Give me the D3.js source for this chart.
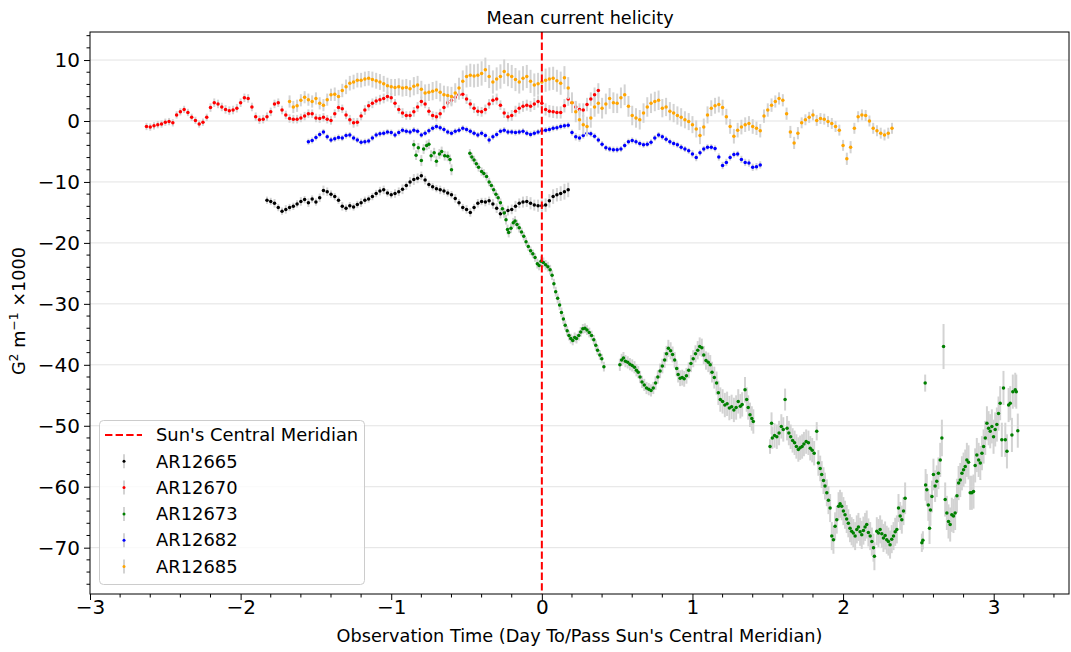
<!DOCTYPE html>
<html><head><meta charset="utf-8">
<script src="https://cdn.jsdelivr.net/npm/d3@7"></script>
<style>body{margin:0;background:#fff}svg{display:block}text{font-family:"DejaVu Sans",sans-serif}</style>
</head><body><svg id="chart" width="1071" height="652"></svg>
<script>
// ---------------- DATA ----------------
const cadence = 0.025; // days between samples of the regular series
const xTickValues = [-3, -2, -1, 0, 1, 2, 3];
const yTickValues = [10, 0, -10, -20, -30, -40, -50, -60, -70];
const seriesNames = ["AR12665", "AR12670", "AR12673", "AR12682", "AR12685"];
const seriesColors = ["#000000", "#ff0000", "#008000", "#0000ff", "#ffa500"];
const meridianLabel = "Sun's Central Meridian";

// AR12665 (black)
const blackStart = -1.825;
const blackValues = [
-13.0,-13.2,-13.5,-14.2,-14.8,-14.5,-14.2,-14.0,-13.6,-13.2,
-12.9,-13.4,-12.8,-13.3,-12.6,-11.4,-11.6,-12.0,-12.4,-13.0,
-14.0,-14.3,-13.9,-14.1,-13.7,-13.4,-13.0,-12.8,-12.4,-11.9,
-11.5,-11.3,-11.8,-12.1,-11.9,-11.6,-11.2,-10.6,-10.0,-9.6,
-9.4,-9.0,-9.7,-10.4,-10.8,-11.1,-11.3,-11.5,-11.8,-12.1,
-12.7,-13.4,-14.2,-14.5,-15.0,-14.2,-13.5,-13.2,-13.3,-13.1,
-13.6,-14.3,-15.2,-15.0,-14.7,-14.5,-14.0,-13.5,-13.3,-13.2,
-13.5,-13.8,-13.9,-13.9,-13.8,-13.1,-12.4,-12.1,-11.9,-11.6,
-11.3];
const blackErrors = [
0.6,0.6,0.7,0.6,0.6,0.7,0.6,0.6,0.6,0.7,
0.6,0.7,0.6,0.6,0.7,0.8,0.7,0.6,0.6,0.6,
0.7,0.6,0.6,0.6,0.6,0.7,0.6,0.6,0.6,0.6,
0.7,0.7,0.6,0.6,0.7,0.7,0.8,0.7,0.8,0.9,
0.8,0.7,0.7,0.6,0.6,0.6,0.7,0.6,0.6,0.6,
0.7,0.6,0.6,0.7,0.7,0.6,0.7,0.6,0.7,0.7,
0.8,0.8,0.8,0.7,0.8,0.8,0.9,0.8,0.9,0.9,
1.0,0.9,1.0,1.0,1.1,1.1,1.2,1.1,1.2,1.3,
1.2];

// AR12670 (red)
const redStart = -2.625;
const redValues = [
-0.9,-1.0,-0.8,-0.6,-0.5,-0.2,-0.1,-0.3,1.0,1.5,
1.9,1.4,0.6,0.1,-0.5,-0.2,0.6,2.2,3.0,2.8,
2.3,1.9,1.7,1.8,2.1,3.0,3.8,3.7,2.3,0.7,
0.2,0.3,0.7,1.5,2.8,3.0,1.8,1.0,0.4,0.3,
0.3,0.5,0.8,1.2,1.2,0.5,0.4,0.6,0.3,0.1,
1.2,2.2,2.0,1.0,0.2,-0.3,-0.2,0.8,1.8,2.5,
2.9,3.3,3.5,3.7,4.0,3.8,2.9,1.9,1.3,0.9,
0.9,1.5,2.3,3.2,2.8,1.6,0.9,0.7,1.2,2.2,
3.0,3.4,3.9,4.3,4.4,3.6,2.8,2.1,1.6,1.5,
1.9,2.8,3.4,3.6,2.6,1.3,0.7,0.9,1.6,2.1,
2.4,2.6,2.4,2.8,3.2,2.9,1.9,1.6,1.5,1.4,
1.4,2.5,3.6,3.0,2.3,1.9,1.8,2.7,3.6,4.3,
5.0];
const redErrors = [
0.6,0.6,0.6,0.6,0.6,0.6,0.6,0.6,0.6,0.6,
0.6,0.6,0.6,0.6,0.6,0.6,0.6,0.7,0.7,0.7,
0.7,0.7,0.7,0.7,0.7,0.7,0.7,0.7,0.7,0.7,
0.7,0.7,0.7,0.7,0.7,0.7,0.7,0.7,0.7,0.7,
0.7,0.7,0.7,0.7,0.7,0.7,0.7,0.7,0.7,0.7,
0.7,0.7,0.7,0.7,0.8,0.8,0.7,0.7,0.8,0.8,
0.8,0.7,0.8,0.8,0.8,0.8,0.7,0.7,0.8,0.7,
0.7,0.8,0.8,0.8,0.7,0.7,0.7,0.8,0.8,0.8,
0.8,0.8,0.8,0.8,0.8,0.8,0.8,0.8,0.8,0.8,
0.8,0.8,0.8,0.9,0.8,0.8,0.8,0.9,0.9,0.9,
0.9,0.9,0.9,1.0,1.0,1.0,1.0,1.0,1.0,1.0,
1.0,1.1,1.1,1.1,1.0,1.0,1.1,1.1,1.1,1.2,
1.2];

// AR12673 (green): irregular sampling, [time, value, error]
const greenPoints = [
[-0.850,-3.9,0.8],[-0.835,-5.6,0.8],[-0.820,-4.4,0.8],[-0.800,-6.5,0.9],[-0.785,-4.6,0.8],
[-0.765,-4.0,0.8],[-0.750,-3.8,0.8],[-0.735,-5.7,0.9],[-0.715,-5.2,0.8],[-0.700,-6.6,0.9],
[-0.680,-5.4,0.8],[-0.665,-5.0,0.8],[-0.645,-5.7,0.8],[-0.625,-5.8,0.8],[-0.610,-6.3,0.8],
[-0.600,-8.0,0.9],
[-0.478,-5.3,0.7],[-0.465,-5.9,0.7],[-0.450,-6.4,0.7],[-0.435,-7.0,0.7],[-0.420,-7.6,0.7],
[-0.400,-8.3,0.7],[-0.385,-8.6,0.7],[-0.367,-9.1,0.7],[-0.350,-10.0,0.7],[-0.335,-10.6,0.7],
[-0.320,-11.3,0.7],[-0.305,-12.0,0.7],[-0.290,-12.6,0.7],[-0.275,-13.4,0.7],[-0.262,-14.4,0.7],
[-0.250,-15.1,0.8],[-0.238,-16.2,0.8],[-0.228,-17.8,0.8],[-0.220,-18.3,0.8],[-0.205,-17.6,0.8],
[-0.190,-16.7,0.8],[-0.178,-16.4,0.8],[-0.165,-17.0,0.8],[-0.150,-17.5,0.8],[-0.135,-18.2,0.7],
[-0.120,-18.9,0.7],[-0.105,-19.8,0.7],[-0.090,-20.6,0.7],[-0.075,-21.3,0.7],[-0.060,-21.8,0.7],
[-0.045,-22.4,0.7],[-0.030,-23.4,0.8],[-0.018,-23.7,0.8],[-0.005,-23.0,0.8],[0.010,-23.2,0.8],
[0.025,-23.6,0.8],[0.040,-23.9,0.8],[0.055,-24.4,0.8],[0.068,-25.3,0.8],[0.080,-26.7,0.8],
[0.092,-28.0,0.8],[0.105,-29.1,0.8],[0.118,-30.2,0.8],[0.130,-31.4,0.8],[0.143,-32.5,0.8],
[0.155,-33.5,0.8],[0.168,-34.4,0.8],[0.180,-35.2,0.8],[0.192,-35.7,0.8],[0.205,-36.0,0.8],
[0.218,-35.5,0.8],[0.230,-35.7,0.8],[0.245,-35.2,0.8],[0.258,-34.6,0.8],[0.272,-34.1,0.8],
[0.286,-34.0,0.8],[0.300,-34.3,0.8],[0.315,-34.7,0.8],[0.330,-35.2,0.8],[0.345,-35.9,0.8],
[0.358,-36.8,0.8],[0.370,-37.6,0.8],[0.385,-38.4,0.8],[0.398,-39.0,0.8],[0.412,-40.3,0.8],
[0.518,-40.0,1.0],[0.530,-39.2,1.0],[0.542,-38.9,1.0],[0.555,-39.4,1.0],[0.570,-39.6,1.0],
[0.585,-39.9,1.0],[0.600,-40.1,1.0],[0.615,-40.4,1.0],[0.628,-40.9,1.0],[0.640,-41.2,1.0],
[0.652,-42.0,1.0],[0.665,-42.8,1.0],[0.680,-43.3,1.0],[0.695,-43.8,1.0],[0.710,-44.0,1.0],
[0.725,-44.2,1.0],[0.740,-43.8,1.0],[0.755,-43.0,1.1],[0.770,-42.0,1.1],[0.785,-41.0,1.2],
[0.800,-40.2,1.2],[0.815,-39.2,1.3],[0.828,-38.2,1.3],[0.840,-37.3,1.4],[0.855,-37.7,1.4],
[0.868,-38.3,1.3],[0.882,-39.2,1.3],[0.895,-40.6,1.3],[0.905,-41.6,1.3],[0.918,-42.2,1.3],
[0.932,-42.1,1.3],[0.945,-42.3,1.3],[0.960,-41.8,1.3],[0.975,-40.9,1.3],[0.990,-39.8,1.4],
[1.005,-39.0,1.4],[1.020,-38.2,1.4],[1.035,-37.6,1.5],[1.048,-37.0,1.5],[1.062,-37.2,1.5],
[1.075,-38.4,1.5],[1.090,-39.3,1.5],[1.105,-39.6,1.6],[1.118,-40.0,1.6],[1.130,-41.2,1.7],
[1.145,-42.1,1.8],[1.160,-43.0,1.9],[1.172,-44.6,2.0],[1.185,-45.7,2.0],[1.200,-46.0,2.0],
[1.215,-46.6,2.0],[1.230,-46.4,2.0],[1.245,-47.1,2.0],[1.260,-46.9,2.0],[1.275,-47.4,2.0],
[1.290,-47.0,2.0],[1.304,-46.0,2.0],[1.318,-46.8,2.0],[1.330,-46.5,2.0],[1.349,-44.1,2.1],
[1.360,-45.7,2.0],[1.370,-47.0,2.0],[1.382,-48.2,2.0],[1.394,-48.8,2.0],[1.404,-49.3,2.0],
[1.515,-53.4,1.2],[1.525,-49.6,1.8],[1.530,-52.0,1.8],[1.545,-51.6,2.0],[1.560,-51.8,2.0],
[1.575,-51.2,2.0],[1.590,-50.1,2.0],[1.603,-50.6,2.0],[1.615,-45.7,1.8],[1.628,-50.4,2.0],
[1.640,-51.2,2.0],[1.652,-51.8,2.0],[1.665,-52.4,2.0],[1.678,-52.8,2.0],[1.690,-53.4,2.0],
[1.703,-53.9,2.0],[1.715,-53.6,2.0],[1.728,-53.4,2.0],[1.740,-53.0,2.0],[1.755,-52.6,2.0],
[1.770,-52.8,2.0],[1.782,-53.7,2.0],[1.795,-54.0,2.0],[1.808,-54.5,2.0],[1.825,-50.9,1.5],
[1.836,-56.1,2.1],[1.848,-57.0,2.1],[1.858,-58.0,2.2],[1.870,-59.0,2.2],[1.880,-59.9,2.2],
[1.892,-61.0,2.2],[1.903,-62.2,2.3],[1.914,-63.5,2.3],[1.925,-68.1,2.3],[1.936,-68.7,2.3],
[1.947,-66.5,2.3],[1.958,-65.4,2.3],[1.970,-63.2,2.3],[1.980,-62.8,2.3],[1.991,-63.2,2.3],
[2.002,-64.0,2.3],[2.013,-64.6,2.3],[2.024,-65.3,2.3],[2.035,-66.0,2.3],[2.046,-66.8,2.3],
[2.057,-67.3,2.3],[2.068,-67.6,2.3],[2.080,-68.1,2.3],[2.091,-67.0,2.3],[2.102,-66.6,2.3],
[2.113,-67.4,2.3],[2.124,-67.9,2.3],[2.135,-67.2,2.3],[2.146,-66.6,2.3],[2.157,-66.2,2.3],
[2.168,-67.5,2.3],[2.180,-68.1,2.3],[2.191,-69.0,2.3],[2.202,-70.0,2.3],[2.208,-71.4,2.3],
[2.224,-67.3,2.3],[2.235,-67.6,2.3],[2.246,-67.0,2.3],[2.257,-67.7,2.3],[2.268,-68.4,2.3],
[2.279,-68.0,2.3],[2.290,-68.7,2.3],[2.301,-69.0,2.3],[2.312,-69.5,2.3],[2.323,-68.6,2.3],
[2.335,-68.1,2.3],[2.346,-67.4,2.3],[2.357,-67.0,2.3],[2.368,-63.5,2.3],[2.379,-64.8,2.3],
[2.390,-65.4,2.3],[2.401,-64.0,2.3],[2.412,-61.9,2.6],
[2.523,-69.2,1.5],[2.530,-68.8,1.5],[2.545,-43.0,1.4],[2.548,-59.7,2.6],[2.556,-60.5,2.6],
[2.566,-63.0,2.6],[2.574,-66.8,2.6],[2.580,-63.8,2.6],[2.590,-61.6,2.6],[2.600,-58.0,2.6],
[2.611,-59.9,2.6],[2.622,-59.1,2.6],[2.633,-57.8,2.6],[2.645,-55.6,2.8],[2.656,-52.0,3.0],
[2.667,-37.0,3.7],[2.678,-62.1,2.8],[2.689,-64.3,2.8],[2.700,-65.7,2.8],[2.711,-66.2,2.8],
[2.722,-64.6,2.8],[2.733,-64.8,2.8],[2.744,-64.3,2.8],[2.756,-61.5,2.8],[2.767,-59.4,2.8],
[2.778,-58.9,2.8],[2.789,-57.8,2.8],[2.800,-57.2,2.8],[2.811,-56.7,2.8],[2.822,-55.6,2.8],
[2.833,-56.0,2.8],[2.844,-61.0,2.8],[2.855,-61.0,2.8],[2.866,-60.8,2.8],[2.877,-56.5,2.8],
[2.888,-54.8,2.8],[2.900,-55.6,2.8],[2.911,-56.1,2.8],[2.922,-54.5,2.8],[2.933,-53.4,2.8],
[2.944,-52.0,2.8],[2.955,-49.6,2.8],[2.966,-50.4,2.8],[2.977,-50.9,2.8],[2.988,-50.1,2.8],
[2.999,-51.8,2.8],[3.010,-50.6,2.8],[3.021,-49.8,2.8],[3.032,-48.0,2.8],[3.043,-46.3,2.8],
[3.054,-52.3,2.8],[3.065,-43.8,2.8],[3.077,-52.3,2.8],[3.088,-54.2,2.8],[3.099,-46.6,2.8],
[3.110,-46.3,2.8],[3.121,-51.5,2.8],[3.127,-44.4,2.8],[3.143,-44.1,2.8],[3.150,-44.4,2.8],
[3.160,-50.8,2.8]];

// AR12682 (blue)
const blueStart = -1.55;
const blueValues = [
-3.4,-3.2,-2.7,-2.2,-1.8,-2.6,-3.1,-2.9,-2.7,-2.8,
-2.4,-2.3,-2.8,-3.1,-3.5,-3.4,-3.3,-2.8,-2.3,-2.1,
-2.0,-1.8,-1.9,-2.3,-1.9,-1.5,-1.7,-1.8,-1.5,-1.7,
-2.3,-2.0,-1.6,-1.2,-0.9,-1.1,-1.4,-1.8,-2.0,-1.7,
-1.5,-1.2,-1.4,-1.7,-2.0,-2.3,-2.0,-2.4,-3.1,-2.6,
-2.2,-1.7,-1.5,-1.8,-1.8,-1.9,-1.8,-1.7,-2.0,-2.2,
-2.0,-1.8,-1.6,-1.5,-1.4,-1.2,-1.1,-0.9,-0.8,-0.7,
-1.9,-2.6,-2.8,-2.4,-2.0,-2.1,-2.5,-3.1,-3.8,-4.4,
-4.6,-4.7,-4.7,-4.6,-4.0,-3.4,-3.2,-3.4,-3.7,-3.9,
-3.8,-3.5,-2.8,-2.3,-2.6,-3.0,-3.4,-3.7,-3.9,-4.3,
-4.6,-4.9,-5.4,-6.0,-5.2,-4.6,-4.3,-4.3,-4.5,-5.9,
-7.3,-6.8,-6.0,-5.5,-5.4,-6.3,-6.8,-6.9,-7.6,-7.5,
-7.2];
const blueErrors = [
0.5,0.5,0.5,0.5,0.5,0.5,0.5,0.5,0.5,0.5,
0.5,0.5,0.5,0.5,0.5,0.5,0.5,0.5,0.5,0.5,
0.5,0.5,0.5,0.5,0.5,0.5,0.5,0.5,0.5,0.5,
0.5,0.5,0.5,0.5,0.5,0.5,0.5,0.5,0.5,0.5,
0.5,0.5,0.5,0.5,0.5,0.5,0.5,0.5,0.6,0.5,
0.5,0.5,0.5,0.5,0.5,0.5,0.5,0.5,0.5,0.5,
0.5,0.5,0.5,0.5,0.5,0.5,0.5,0.5,0.5,0.5,
0.5,0.6,0.6,0.5,0.5,0.5,0.5,0.5,0.5,0.5,
0.5,0.5,0.5,0.5,0.5,0.5,0.5,0.5,0.5,0.5,
0.5,0.5,0.5,0.5,0.5,0.5,0.5,0.5,0.5,0.5,
0.5,0.5,0.6,0.6,0.5,0.5,0.5,0.5,0.5,0.6,
0.6,0.6,0.5,0.5,0.5,0.6,0.6,0.6,0.6,0.6,
0.6];

// AR12685 (orange)
const orangeStart = -1.675;
const orangeValues = [
3.2,2.3,2.5,3.4,3.9,3.5,3.2,3.7,2.9,2.6,
3.5,4.3,4.4,4.0,5.0,5.6,6.2,6.4,6.7,6.7,
6.9,7.0,6.8,6.6,6.4,6.1,5.8,5.6,5.5,5.6,
5.4,5.5,5.3,5.7,5.9,5.2,4.6,4.7,4.9,5.1,
4.7,4.3,4.2,4.0,4.6,5.4,6.5,7.3,7.5,7.4,
7.5,7.8,8.4,7.3,6.4,6.9,7.3,8.1,7.6,7.3,
6.8,6.4,7.0,7.3,6.5,5.9,6.1,6.4,6.7,6.9,
7.0,6.6,6.2,7.1,5.4,3.0,1.5,0.2,-0.6,-0.9,
0.5,2.3,2.9,2.1,2.8,3.7,3.0,2.9,3.8,4.3,
2.4,0.9,0.5,0.2,1.3,2.3,2.9,3.2,3.4,2.1,
2.3,1.6,1.3,0.9,0.6,0.2,-0.1,-0.6,-1.3,-2.4,
-1.0,1.0,2.1,2.5,2.7,2.2,0.7,-0.9,-2.5,-1.5,
-1.0,-0.6,-0.4,-0.9,-1.2,-1.6,0.8,1.8,2.6,3.2,
3.7,3.4,1.2,-1.8,-3.6,-2.0,-0.3,0.2,0.6,1.0,
0.1,0.4,0.3,-0.1,-0.4,-0.9,-1.5,-4.0,-6.2,-4.3,
-1.2,0.7,1.0,0.9,0.0,-1.2,-1.6,-2.0,-2.3,-2.0,
-1.2];
const orangeErrors = [
1.0,1.0,1.0,1.0,1.0,1.0,1.0,1.0,1.0,1.0,
1.0,1.0,1.1,1.1,1.1,1.2,1.2,1.2,1.2,1.2,
1.2,1.2,1.3,1.3,1.3,1.3,1.3,1.3,1.4,1.4,
1.4,1.4,1.4,1.5,1.5,1.4,1.4,1.4,1.5,1.5,
1.5,1.5,1.5,1.6,1.6,1.7,1.8,1.8,1.9,1.9,
1.9,2.0,2.0,1.9,1.9,1.9,2.0,2.0,1.9,1.9,
1.9,1.9,2.0,1.9,1.9,1.9,1.8,1.8,1.9,1.9,
1.9,1.8,1.9,1.9,1.8,1.7,1.7,1.7,1.6,1.6,
1.6,1.6,1.7,1.7,1.7,1.7,1.7,1.6,1.7,1.7,
1.7,1.6,1.6,1.6,1.6,1.6,1.6,1.6,1.6,1.5,
1.5,1.5,1.5,1.5,1.5,1.4,1.4,1.4,1.4,1.4,
1.4,1.4,1.3,1.3,1.3,1.3,1.3,1.2,1.2,1.2,
1.2,1.2,1.2,1.2,1.1,1.1,1.1,1.1,1.1,1.0,
1.0,1.0,1.0,1.0,1.0,1.0,0.9,0.9,0.9,0.9,
0.9,0.9,0.9,0.9,0.9,0.9,0.9,0.9,1.0,1.0,
0.9,0.9,0.9,0.9,0.9,0.9,0.9,0.9,0.9,0.9,
0.9];

// ---------------- BUILD ----------------
function regular(start, values, errors) {
  return values.map((v, i) => ({t: start + i * cadence, v: v, e: errors[i] ?? 0.7}));
}
const series = [
  regular(blackStart, blackValues, blackErrors),
  regular(redStart, redValues, redErrors),
  greenPoints.map(p => ({t: p[0], v: p[1], e: p[2]})),
  regular(blueStart, blueValues, blueErrors),
  regular(orangeStart, orangeValues, orangeErrors)
];

const svg = d3.select("#chart");
const L = 90, R = 1069, T = 32, B = 594;
const x = d3.scaleLinear().domain([-3, 3.5]).range([L, R]);
const y = d3.scaleLinear().domain([-77.6, 14.6]).range([B, T]);
const errColor = "#d3d3d3";
const dotR = 1.75;

svg.append("rect").attr("width", 1071).attr("height", 652).attr("fill", "#fff");

// grid
svg.append("g").selectAll("line").data(yTickValues).join("line")
  .attr("x1", L).attr("x2", R).attr("y1", d => y(d)).attr("y2", d => y(d))
  .attr("stroke", "#e3e3e3").attr("stroke-width", 1);

// data
const plot = svg.append("g");
series.forEach((pts, si) => {
  const g = plot.append("g");
  g.selectAll("line").data(pts).join("line")
    .attr("x1", d => x(d.t)).attr("x2", d => x(d.t))
    .attr("y1", d => y(d.v - d.e)).attr("y2", d => y(d.v + d.e))
    .attr("stroke", errColor).attr("stroke-width", 2);
  g.selectAll("circle").data(pts).join("circle")
    .attr("cx", d => x(d.t)).attr("cy", d => y(d.v)).attr("r", dotR)
    .attr("fill", seriesColors[si]);
});

// central meridian
svg.append("line").attr("x1", x(0)).attr("x2", x(0)).attr("y1", T).attr("y2", B)
  .attr("stroke", "#ff0000").attr("stroke-width", 2).attr("stroke-dasharray", "7.4,3.2");

// frame
svg.append("rect").attr("x", L).attr("y", T).attr("width", R - L).attr("height", B - T)
  .attr("fill", "none").attr("stroke", "#000").attr("stroke-width", 1);

// axes
const fmt = d3.format("d");
const xAxis = svg.append("g").attr("transform", `translate(0,${B})`)
  .call(d3.axisBottom(x).tickValues(xTickValues).tickSize(6).tickPadding(0).tickFormat(fmt));
const yAxis = svg.append("g").attr("transform", `translate(${L},0)`)
  .call(d3.axisLeft(y).tickValues(yTickValues).tickSize(6).tickPadding(4).tickFormat(fmt));
[xAxis, yAxis].forEach(a => {
  a.select(".domain").remove();
  a.attr("font-family", "DejaVu Sans").attr("font-size", 20);
  a.selectAll("text").attr("fill", "#000");
  a.selectAll("line").attr("stroke", "#000");
});

// minor ticks
const xMinor = d3.range(-30, 36, 2).map(d => d / 10).filter(d => !xTickValues.includes(d));
const yMinor = d3.range(-76, 15, 2).filter(d => !yTickValues.includes(d));
svg.append("g").selectAll("line").data(xMinor).join("line")
  .attr("x1", d => x(d)).attr("x2", d => x(d)).attr("y1", B).attr("y2", B + 3.5)
  .attr("stroke", "#000");
svg.append("g").selectAll("line").data(yMinor).join("line")
  .attr("y1", d => y(d)).attr("y2", d => y(d)).attr("x1", L).attr("x2", L - 3.5)
  .attr("stroke", "#000");

// titles
svg.append("text").attr("x", (L + R) / 2 + 0.5).attr("y", 24).attr("text-anchor", "middle")
  .attr("font-size", 17.7).text("Mean current helicity");
svg.append("text").attr("x", (L + R) / 2).attr("y", 642).attr("text-anchor", "middle")
  .attr("font-size", 17.7).text("Observation Time (Day To/Pass Sun's Central Meridian)");
const yl = svg.append("text").attr("transform", `translate(25,${(T + B) / 2 - 2}) rotate(-90)`)
  .attr("text-anchor", "middle").attr("font-size", 17.7);
yl.append("tspan").text("G");
yl.append("tspan").attr("font-size", 12.4).attr("dy", -7).text("2");
yl.append("tspan").attr("dy", 7).text(" m");
yl.append("tspan").attr("font-size", 12.4).attr("dy", -7).text("\u22121");
yl.append("tspan").attr("dy", 7).text(" \u00d71000");

// legend
const lg = svg.append("g");
lg.append("rect").attr("x", 99.5).attr("y", 420.5).attr("width", 265).attr("height", 164)
  .attr("rx", 4).attr("fill", "#fff").attr("fill-opacity", 0.8).attr("stroke", "#cccccc");
const rowY = i => 435 + i * 26.3;
lg.append("line").attr("x1", 105).attr("x2", 142).attr("y1", rowY(0)).attr("y2", rowY(0))
  .attr("stroke", "#ff0000").attr("stroke-width", 2).attr("stroke-dasharray", "7.4,3.2");
lg.append("text").attr("x", 156).attr("y", rowY(0)).attr("dy", "0.35em").attr("font-size", 17.9)
  .text(meridianLabel);
seriesNames.forEach((n, i) => {
  const yy = rowY(i + 1);
  lg.append("line").attr("x1", 124).attr("x2", 124).attr("y1", yy - 7).attr("y2", yy + 7)
    .attr("stroke", errColor).attr("stroke-width", 2);
  lg.append("circle").attr("cx", 124).attr("cy", yy).attr("r", 1.5).attr("fill", seriesColors[i]);
  lg.append("text").attr("x", 156).attr("y", yy).attr("dy", "0.35em").attr("font-size", 17.9).text(n);
});
</script></body></html>
